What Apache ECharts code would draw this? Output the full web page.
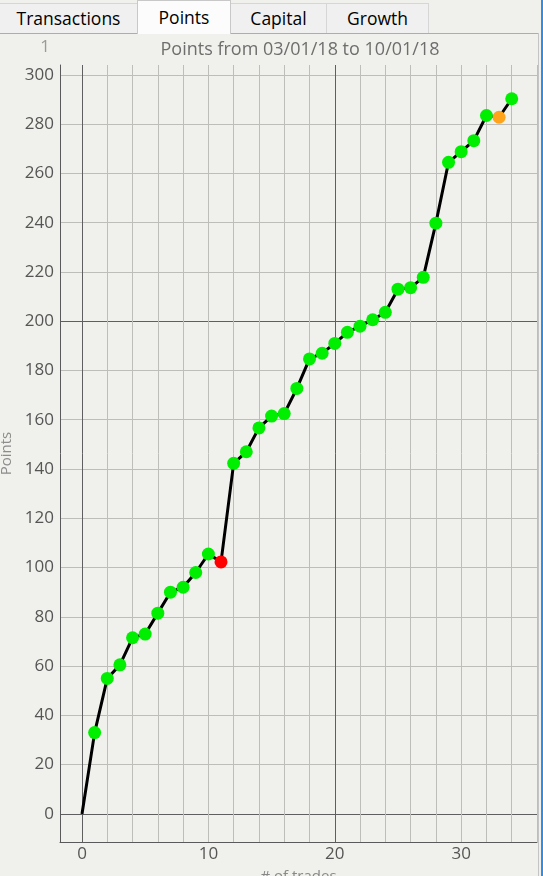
<!DOCTYPE html>
<html>
<head>
<meta charset="utf-8">
<script src="https://cdn.jsdelivr.net/npm/echarts@6/dist/echarts.min.js"></script>
<style>
html,body{margin:0;padding:0;background:#f0f0ec;width:543px;height:876px;overflow:hidden;font-family:"Open Sans",sans-serif;}
#chart{position:absolute;left:0;top:0;width:543px;height:876px;}
.tab{position:absolute;box-sizing:border-box;text-align:center;font-size:17.5px;color:#000;border:1px solid #d6d6d6;border-bottom:none;background:#f0f0f0;font-family:"Open Sans",sans-serif;}
.tab.sel{background:#fcfcfc;border-color:#c8c8c8;z-index:3;}
.line{position:absolute;}
</style>
</head>
<body>
<div id="chart"></div>
<div class="line" style="left:0;top:33px;width:538px;height:1px;background:#adadad;z-index:2"></div>
<div class="line" style="left:538px;top:33px;width:1px;height:843px;background:#c4c4c4;z-index:2"></div>
<div class="line" style="left:541px;top:0;width:2px;height:876px;background:#2f8fe6;z-index:2"></div>
<div class="tab" style="left:-1px;top:3px;width:139px;height:30px;line-height:28px;">Transactions</div>
<div class="tab sel" style="left:137px;top:0;width:94px;height:34px;line-height:32px;">Points</div>
<div class="tab" style="left:230px;top:3px;width:97px;height:30px;line-height:28px;">Capital</div>
<div class="tab" style="left:326px;top:3px;width:103px;height:30px;line-height:28px;">Growth</div>
<script>
// ---- data ----
const trades = [0,1,2,3,4,5,6,7,8,9,10,11,12,13,14,15,16,17,18,19,20,21,22,23,24,25,26,27,28,29,30,31,32,33,34];
const points = [0,33,55,60.5,71.5,73,81.5,90,92,98,105.5,102.3,142.3,147,156.7,161.5,162.5,172.7,184.7,187,191,195.5,198,200.6,203.6,213,213.6,217.8,239.8,264.5,268.8,273.3,283.5,282.8,290.3];
const outcome = ['start','win','win','win','win','win','win','win','win','win','win','loss','win','win','win','win','win','win','win','win','win','win','win','win','win','win','win','win','win','win','win','win','win','even','win'];
const xLabelTicks = [0,10,20,30];
const yLabelTicks = [0,20,40,60,80,100,120,140,160,180,200,220,240,260,280,300];
const xMinorGrid = [0,2,4,6,8,10,12,14,16,18,20,22,24,26,28,30,32,34,36];
const xMajorGrid = [0,20];
const yMinorGrid = [0,20,40,60,80,100,120,140,160,180,200,220,240,260,280,300];
const yMajorGrid = [0,200];
const title = 'Points from 03/01/18 to 10/01/18';

const colorOf = {win:'#00ee00', loss:'#ff0000', even:'#ffa31a'};
const FONT = 'Open Sans';
const xMin = -1.74, xMax = 36, yMin = -11.4, yMax = 304;

const chart = echarts.init(document.getElementById('chart'), null, {renderer:'canvas'});
function hiddenAxis(min, max, ticks, color, pos){
  return {type:'value', min:min, max:max, position:pos,
    axisLine:{show:false}, axisLabel:{show:false},
    axisTick:{show:false, customValues:ticks},
    splitLine:{show:true, lineStyle:{color:color, width:1}}};
}
chart.setOption({
  animation:false,
  backgroundColor:'transparent',
  graphic:[
    {type:'text', x:300, y:50, style:{text:title, fill:'#6e6e6e', font:'18px "'+FONT+'"', align:'center', verticalAlign:'middle'}},
    {type:'text', x:45, y:47, style:{text:'1', fill:'#9a9a9a', font:'17px "'+FONT+'"', align:'center', verticalAlign:'middle'}}
  ],
  grid:{left:60, right:6, top:65, bottom:34, containLabel:false, outerBoundsMode:'none'},
  xAxis:[
    hiddenAxis(xMin, xMax, xMinorGrid, '#bdbdb9', 'bottom'),
    hiddenAxis(xMin, xMax, xMajorGrid, '#5f5f5f', 'bottom'),
    {type:'value', min:xMin, max:xMax, position:'bottom',
      axisLine:{show:true, onZero:false, lineStyle:{color:'#5a5a5a', width:1}},
      axisTick:{show:false, customValues:xLabelTicks},
      axisLabel:{customValues:xLabelTicks, color:'#555', fontSize:17, fontFamily:FONT, margin:4},
      splitLine:{show:false},
      name:'# of trades', nameLocation:'middle', nameGap:27,
      nameTextStyle:{color:'#888', fontSize:15, fontFamily:FONT}}
  ],
  yAxis:[
    hiddenAxis(yMin, yMax, yMinorGrid, '#bdbdb9', 'left'),
    hiddenAxis(yMin, yMax, yMajorGrid, '#5f5f5f', 'left'),
    {type:'value', min:yMin, max:yMax, position:'left',
      axisLine:{show:true, onZero:false, lineStyle:{color:'#5a5a5a', width:1}},
      axisTick:{show:false, customValues:yLabelTicks},
      axisLabel:{customValues:yLabelTicks, color:'#555', fontSize:17, fontFamily:FONT, margin:6},
      splitLine:{show:false},
      name:'Points', nameLocation:'middle', nameGap:44, nameRotate:90,
      nameTextStyle:{color:'#8c8c8c', fontSize:15, fontFamily:FONT}}
  ],
  series:[{
    type:'line', xAxisIndex:2, yAxisIndex:2,
    showAllSymbol:true, symbolSize:13, z:5,
    lineStyle:{color:'#000', width:3},
    data: trades.map((t,i)=>({
      value:[t, points[i]],
      symbol: outcome[i]==='start' ? 'none' : 'circle',
      itemStyle:{color: colorOf[outcome[i]] || '#000', borderWidth:0}
    }))
  }]
});
</script>
</body>
</html>
